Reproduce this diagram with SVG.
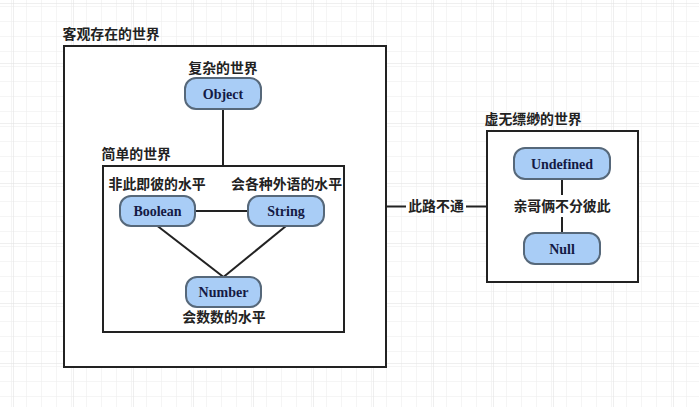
<svg xmlns="http://www.w3.org/2000/svg" width="699" height="407" viewBox="0 0 699 407">
<defs>
<pattern id="minor" x="13" y="3" width="15" height="15" patternUnits="userSpaceOnUse">
<path d="M0 0H15M0 0V15" fill="none" stroke="#ececec" stroke-width="1"/>
</pattern>
<pattern id="major" x="13" y="3" width="60" height="60" patternUnits="userSpaceOnUse">
<rect width="60" height="60" fill="url(#minor)"/>
<path d="M0 0H60M0 0V60" fill="none" stroke="#e0e0e0" stroke-width="1"/>
</pattern>
<style>
.box{fill:#ffffff;stroke:#222222;stroke-width:2}
.node{fill:#a9cdf6;stroke:#56687a;stroke-width:2}
.nt{font-family:"Liberation Serif","Times New Roman",serif;font-weight:bold;font-size:14px;fill:#141a44;text-anchor:middle}
.cn{font-family:"Noto Sans CJK SC","Noto Sans",sans-serif;font-weight:bold;font-size:13.9px;fill:#222222}
.mid{text-anchor:middle}
.edge{fill:none;stroke:#222222;stroke-width:2}
</style>
</defs>
<rect width="699" height="407" fill="#ffffff"/>
<rect width="699" height="407" fill="url(#major)"/>

<g id="world-objective">
<rect class="box" x="64" y="46" width="322" height="321"/>
<text class="cn" x="62.5" y="39">客观存在的世界</text>
</g>
<g id="world-simple">
<rect class="box" x="103" y="166" width="241" height="166"/>
<text class="cn" x="101.5" y="159">简单的世界</text>
</g>
<g id="world-void">
<rect class="box" x="487" y="131" width="151" height="151"/>
<text class="cn" x="484.5" y="124">虚无缥缈的世界</text>
</g>

<g id="connectors">
<path class="edge" d="M223 109V166"/>
<path class="edge" d="M195 211H248"/>
<path class="edge" d="M157.5 226L223.5 277"/>
<path class="edge" d="M286 226L223.5 277"/>
<path class="edge" d="M386 206.5H406M466 206.5H487"/>
<text class="cn mid" x="436" y="211">此路不通</text>
<path class="edge" d="M562 179V195M562 217V233"/>
<text class="cn mid" x="562" y="211">亲哥俩不分彼此</text>
</g>

<g id="node-object">
<text class="cn mid" x="223" y="73">复杂的世界</text>
<rect class="node" x="185" y="78" width="76" height="31" rx="11"/>
<text class="nt" x="223" y="98.5">Object</text>
</g>
<g id="node-boolean">
<text class="cn" x="108.5" y="189">非此即彼的水平</text>
<rect class="node" x="120" y="196" width="75" height="30" rx="11"/>
<text class="nt" x="157.5" y="216">Boolean</text>
</g>
<g id="node-string">
<text class="cn" x="231" y="189">会各种外语的水平</text>
<rect class="node" x="248" y="196" width="76" height="30" rx="11"/>
<text class="nt" x="286" y="216">String</text>
</g>
<g id="node-number">
<rect class="node" x="186" y="277" width="75" height="30" rx="11"/>
<text class="nt" x="223.5" y="297">Number</text>
<text class="cn mid" x="224" y="322">会数数的水平</text>
</g>
<g id="node-undefined">
<rect class="node" x="514" y="148" width="96" height="31" rx="11"/>
<text class="nt" x="562" y="168.5">Undefined</text>
</g>
<g id="node-null">
<rect class="node" x="524" y="233" width="76" height="31" rx="11"/>
<text class="nt" x="562" y="253.5">Null</text>
</g>
</svg>
